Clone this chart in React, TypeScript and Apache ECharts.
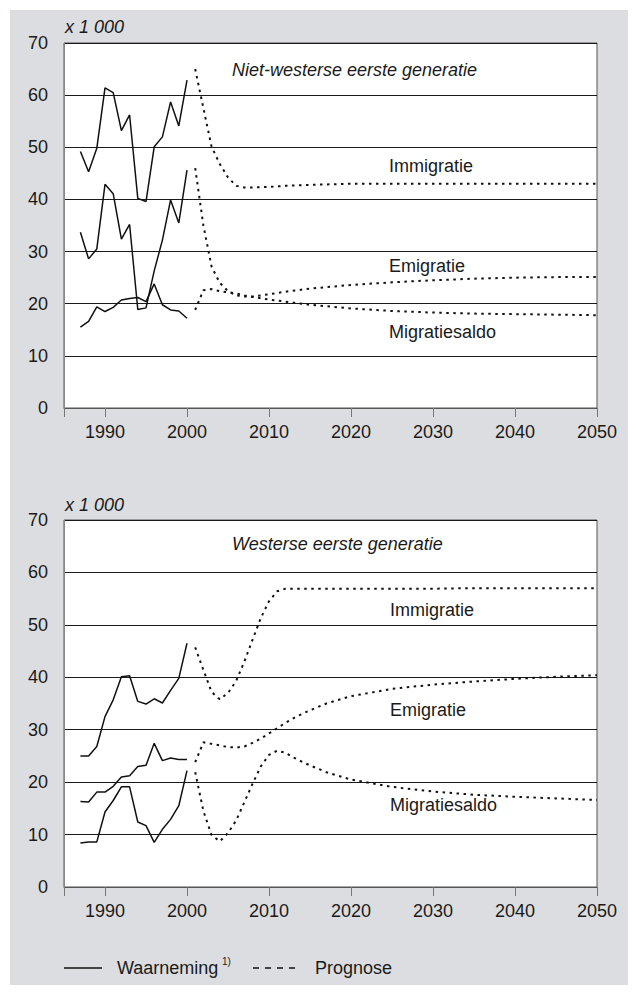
import React, { useEffect, useRef } from "react";
import * as echarts from "echarts";

// ---------- data ----------
const obsYears = [1987, 1988, 1989, 1990, 1991, 1992, 1993, 1994, 1995, 1996, 1997, 1998, 1999, 2000];

// Niet-westerse eerste generatie (x 1 000)
const nwImmObs = [49.2, 45.3, 49.8, 61.4, 60.5, 53.2, 56.2, 40.2, 39.6, 50.1, 52.0, 58.7, 54.1, 62.9];
const nwEmigObs = [33.7, 28.6, 30.5, 42.9, 41.1, 32.4, 35.2, 18.9, 19.2, 26.3, 32.2, 39.9, 35.5, 45.6];
const nwSaldoObs = [15.5, 16.6, 19.4, 18.5, 19.3, 20.7, 21.0, 21.2, 20.4, 23.8, 19.8, 18.8, 18.6, 17.2];

const nwProgYears = [2001, 2002, 2003, 2004, 2005, 2006, 2007, 2008, 2010, 2012, 2015, 2020, 2025, 2030, 2035, 2040, 2045, 2050];
const nwImmProg = [65.0, 57.5, 50.1, 46.8, 44.2, 42.6, 42.3, 42.3, 42.4, 42.6, 42.8, 43.0, 43.0, 43.0, 43.0, 43.0, 43.0, 43.0];
const nwEmigProg = [46.0, 35.0, 27.1, 24.0, 22.4, 21.6, 21.4, 21.4, 21.8, 22.3, 22.9, 23.6, 24.1, 24.5, 24.8, 25.0, 25.1, 25.1];
const nwSaldoProg = [18.8, 22.6, 22.8, 22.4, 22.2, 22.0, 21.6, 21.3, 20.8, 20.4, 19.8, 19.1, 18.6, 18.3, 18.1, 18.0, 17.9, 17.8];

// Westerse eerste generatie (x 1 000)
const wImmObs = [25.0, 25.0, 26.8, 32.5, 35.7, 40.1, 40.3, 35.4, 34.9, 35.9, 35.1, 37.5, 39.8, 46.5];
const wEmigObs = [16.3, 16.2, 18.1, 18.1, 19.2, 21.0, 21.2, 23.0, 23.2, 27.4, 24.1, 24.6, 24.3, 24.3];
const wSaldoObs = [8.4, 8.6, 8.6, 14.3, 16.5, 19.1, 19.1, 12.4, 11.7, 8.5, 11.0, 12.9, 15.5, 22.2];

const wProgYears = [2001, 2002, 2003, 2004, 2005, 2006, 2007, 2008, 2009, 2010, 2011, 2012, 2013, 2014, 2015, 2017, 2020, 2025, 2030, 2035, 2040, 2045, 2050];
const wImmProg = [45.7, 41.4, 37.2, 35.8, 37.0, 39.3, 43.0, 47.2, 51.3, 54.5, 56.4, 56.9, 56.9, 56.9, 56.9, 56.9, 56.9, 56.9, 56.9, 57.0, 57.0, 57.0, 57.0];
const wEmigProg = [23.8, 27.6, 27.3, 27.0, 26.7, 26.6, 26.8, 27.5, 28.3, 29.3, 30.3, 31.3, 32.2, 33.0, 33.7, 35.0, 36.4, 37.8, 38.6, 39.2, 39.7, 40.1, 40.4];
const wSaldoProg = [21.9, 14.5, 9.9, 8.7, 10.3, 12.7, 16.2, 19.7, 23.0, 25.2, 26.0, 25.6, 24.7, 23.9, 23.2, 21.9, 20.5, 19.1, 18.2, 17.6, 17.2, 16.9, 16.6];

const xLabelYears = [1990, 2000, 2010, 2020, 2030, 2040, 2050];
const xTickYears = [1985, 1990, 2000, 2010, 2020, 2030, 2040, 2050];

const FONT = '"Liberation Sans", Arial, Helvetica, sans-serif';
const INK = "#1a1a1a";

function pairs(xs: number[], ys: number[]) {
  return xs.map((x, i) => [x, ys[i]]);
}

function obsSeries(idx: number, xs: number[], ys: number[]) {
  return {
    type: "line",
    xAxisIndex: idx,
    yAxisIndex: idx,
    data: pairs(xs, ys),
    symbol: "none",
    silent: true,
    z: 4,
    lineStyle: { color: "#111", width: 1.5, type: "solid" },
  };
}

function progSeries(idx: number, xs: number[], ys: number[]) {
  return {
    type: "line",
    xAxisIndex: idx,
    yAxisIndex: idx,
    data: pairs(xs, ys),
    symbol: "none",
    silent: true,
    z: 4,
    lineStyle: { color: "#111", width: 2, type: [2.5, 4.5], cap: "butt" },
  };
}

function xAxis(idx: number) {
  return {
    type: "value",
    gridIndex: idx,
    min: 1985,
    max: 2050,
    axisLine: { show: true, lineStyle: { color: "#555", width: 1 } },
    axisTick: { show: true, length: 9, customValues: xTickYears, lineStyle: { color: "#777" } },
    axisLabel: {
      customValues: xLabelYears,
      formatter: (v: number) => String(v),
      fontFamily: FONT,
      fontSize: 18,
      color: INK,
      margin: 15,
    },
    splitLine: { show: false },
  };
}

function yAxis(idx: number) {
  return {
    type: "value",
    gridIndex: idx,
    min: 0,
    max: 70,
    interval: 10,
    axisLine: { show: true, lineStyle: { color: "#888", width: 1 } },
    axisTick: { show: false },
    axisLabel: { fontFamily: FONT, fontSize: 18, color: INK, margin: 16 },
    splitLine: { show: true, lineStyle: { color: "#1a1a1a", width: 1 } },
  };
}

function txt(text: string, x: number, y: number, italic = false, size = 18) {
  return {
    type: "text",
    x,
    y,
    silent: true,
    z: 10,
    style: {
      text,
      fill: INK,
      font: `${italic ? "italic " : ""}${size}px ${FONT}`,
      textAlign: "left",
      textVerticalAlign: "middle",
    },
  };
}

export default function App() {
  const ref = useRef<HTMLDivElement>(null);

  useEffect(() => {
    document.body.style.margin = "0";
    if (!ref.current) return;
    const chart = echarts.init(ref.current, null, { renderer: "svg" });
    chart.setOption({
      animation: false,
      backgroundColor: "transparent",
      grid: [
        { left: 64, top: 43, width: 533, height: 365, show: true, backgroundColor: "#fff", borderColor: "#555", borderWidth: 1 },
        { left: 64, top: 520, width: 533, height: 367, show: true, backgroundColor: "#fff", borderColor: "#555", borderWidth: 1 },
      ],
      xAxis: [xAxis(0), xAxis(1)],
      yAxis: [yAxis(0), yAxis(1)],
      series: [
        obsSeries(0, obsYears, nwImmObs),
        obsSeries(0, obsYears, nwEmigObs),
        obsSeries(0, obsYears, nwSaldoObs),
        progSeries(0, nwProgYears, nwImmProg),
        progSeries(0, nwProgYears, nwEmigProg),
        progSeries(0, nwProgYears, nwSaldoProg),
        obsSeries(1, obsYears, wImmObs),
        obsSeries(1, obsYears, wEmigObs),
        obsSeries(1, obsYears, wSaldoObs),
        progSeries(1, wProgYears, wImmProg),
        progSeries(1, wProgYears, wEmigProg),
        progSeries(1, wProgYears, wSaldoProg),
      ],
      graphic: [
        txt("x 1 000", 65, 27, true),
        txt("Niet-westerse eerste generatie", 232, 70, true),
        txt("Immigratie", 389, 166),
        txt("Emigratie", 389, 266),
        txt("Migratiesaldo", 389, 332),
        txt("x 1 000", 65, 505, true),
        txt("Westerse eerste generatie", 232, 544, true),
        txt("Immigratie", 390, 610),
        txt("Emigratie", 390, 710),
        txt("Migratiesaldo", 390, 805),
        {
          type: "line",
          silent: true,
          shape: { x1: 64, y1: 968, x2: 102, y2: 968 },
          style: { stroke: "#111", lineWidth: 1.5 },
        },
        txt("Waarneming", 117, 968),
        txt("1)", 222, 961, false, 10),
        {
          type: "line",
          silent: true,
          shape: { x1: 253, y1: 968, x2: 297, y2: 968 },
          style: { stroke: "#111", lineWidth: 1.5, lineDash: [6, 6] },
        },
        txt("Prognose", 315, 968),
      ],
    });
    return () => chart.dispose();
  }, []);

  return (
    <div style={{ position: "relative", width: 636, height: 996, background: "#fff" }}>
      <div style={{ position: "absolute", left: 10, top: 10, width: 618, height: 975, background: "#dcdde0" }} />
      <div ref={ref} style={{ position: "absolute", left: 0, top: 0, width: 636, height: 996 }} />
    </div>
  );
}
